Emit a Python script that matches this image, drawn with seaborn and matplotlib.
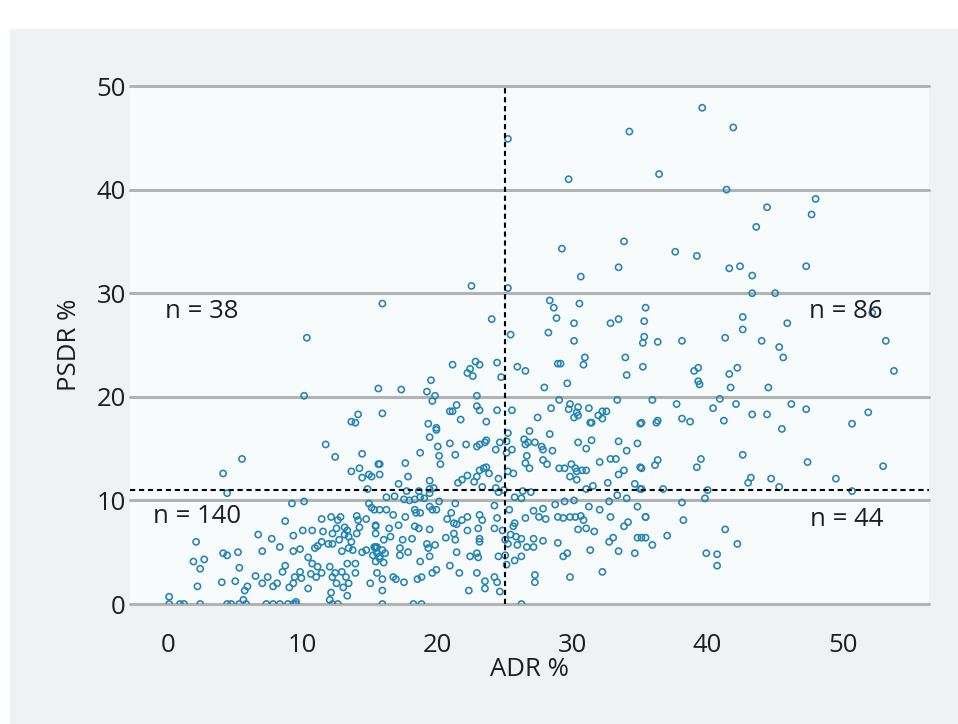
import matplotlib
matplotlib.use("Agg")
import matplotlib.pyplot as plt
from matplotlib.patches import Rectangle
import seaborn as sns

sns.set_theme(style="white")
plt.rcParams["font.family"] = ["Open Sans", "DejaVu Sans"]

# ---------------------------------------------------------------
# DATA (ADR % vs PSDR %)
# ---------------------------------------------------------------
upper_right = [
    (34.2, 45.6), (25.2, 44.9), (29.7, 41.0), (29.2, 34.3), (33.8, 35.0),
    (39.6, 47.9), (41.9, 46.0), (36.4, 41.5), (41.4, 40.0), (48.0, 39.1),
    (44.4, 38.3), (47.7, 37.6), (43.6, 36.4), (37.6, 34.0), (39.2, 33.6),
    (41.6, 32.4), (42.4, 32.6), (43.3, 31.7), (47.3, 32.6), (43.3, 30.0),
    (45.0, 30.0), (35.4, 28.6), (35.3, 27.3), (42.6, 27.7), (42.6, 26.5),
    (45.9, 27.1), (52.2, 28.1), (35.3, 25.8), (35.2, 25.2), (36.3, 25.3),
    (38.1, 25.4), (41.3, 25.7), (44.0, 25.4), (45.3, 24.8), (45.6, 23.8),
    (53.2, 25.4), (53.8, 22.5), (35.2, 22.9), (39.0, 22.5), (39.3, 22.8),
    (42.2, 22.8), (41.6, 22.2), (39.3, 21.5), (39.4, 21.2), (41.7, 20.9),
    (44.5, 20.9), (35.9, 19.7), (37.7, 19.3), (40.9, 19.8), (40.4, 18.9),
    (42.1, 19.3), (46.2, 19.3), (47.3, 18.8), (51.9, 18.5), (35.1, 17.5),
    (36.2, 17.5), (36.3, 17.7), (38.1, 17.9), (38.7, 17.6), (41.2, 17.7),
    (43.3, 18.3), (44.4, 18.3), (50.7, 17.4), (45.5, 16.9),
]

lower_right = [
    (42.6, 14.4), (47.4, 13.7), (53.0, 13.3), (39.5, 14.0), (39.2, 13.2),
    (36.3, 13.9), (36.1, 13.4), (35.1, 13.1), (43.2, 12.2), (43.0, 11.7),
    (44.7, 12.1), (49.5, 12.1), (45.3, 11.3), (36.7, 11.1), (40.0, 11.0),
    (50.7, 10.9), (35.1, 11.1), (38.1, 9.8), (39.8, 10.2), (35.4, 8.4),
    (38.2, 8.1), (41.3, 7.2), (37.0, 6.6), (35.1, 6.4), (35.9, 5.7),
    (42.2, 5.8), (39.9, 4.9), (40.7, 4.8), (40.7, 3.7),
]

middle_upper = [
    (33.4, 32.5), (30.6, 31.6), (22.5, 30.7), (25.2, 30.5), (15.9, 29.0),
    (28.3, 29.3), (28.6, 28.6), (30.5, 29.0), (28.8, 27.6), (30.1, 27.1),
    (32.8, 27.1), (33.4, 27.5), (24.0, 27.5), (25.4, 26.0), (28.2, 26.2),
    (30.1, 25.4), (30.9, 23.8), (30.8, 23.1), (28.9, 23.2), (29.1, 23.2),
    (33.9, 23.8), (34.0, 22.1), (29.6, 21.3), (27.9, 20.9), (22.8, 23.4),
    (23.1, 23.1), (24.4, 23.3), (25.9, 22.9), (26.5, 22.5), (24.7, 21.9),
    (21.1, 23.1), (22.4, 22.7), (22.2, 22.3), (22.6, 22.0), (19.5, 21.6),
    (15.6, 20.8), (17.3, 20.7), (19.2, 20.5), (19.8, 20.1), (19.6, 19.6),
    (22.9, 20.1), (21.4, 19.2), (20.9, 18.6), (21.1, 18.6), (22.9, 19.1),
    (23.1, 18.7), (24.4, 18.7), (25.5, 18.7), (21.7, 17.8), (23.6, 17.6),
    (15.9, 18.4), (19.3, 17.4), (19.9, 17.0), (27.4, 18.0), (28.4, 18.9),
    (29.0, 19.7), (29.8, 19.3), (30.4, 19.0), (29.7, 18.8), (30.3, 18.5),
    (30.1, 18.0), (30.4, 18.2), (31.2, 18.9), (31.3, 17.5), (31.9, 18.2),
    (32.2, 18.6), (32.5, 18.6), (32.2, 17.9), (33.3, 19.7),
]

left_upper = [
    (10.3, 25.7), (10.1, 20.1), (14.1, 18.3), (13.6, 17.6), (13.9, 17.5),
]

left_lower = [
    (11.7, 15.4), (12.4, 14.2), (14.4, 14.5), (5.5, 14.0), (4.1, 12.6),
    (4.4, 10.7), (13.6, 12.8), (14.2, 13.1), (14.4, 12.2), (14.9, 12.5),
    (15.6, 13.5), (14.8, 11.1), (9.2, 9.7), (10.1, 9.9), (14.9, 9.7),
    (15.3, 9.1), (8.7, 8.0), (11.4, 8.2), (12.1, 8.4), (12.6, 8.1),
    (12.8, 8.4), (14.0, 8.5), (14.1, 8.1), (14.7, 8.2), (10.0, 7.1),
    (10.7, 7.1), (11.5, 7.0), (12.5, 7.3), (13.1, 7.4), (13.3, 7.1),
    (14.2, 7.4), (15.4, 7.5), (12.2, 6.8), (13.1, 6.7), (13.4, 6.5),
    (14.0, 6.8), (6.7, 6.7), (7.7, 6.3), (9.3, 6.6), (2.1, 6.0),
    (11.4, 6.0), (11.9, 5.8), (12.2, 5.8), (12.7, 6.2), (13.6, 6.0),
    (11.1, 5.6), (8.3, 5.5), (7.0, 5.1), (9.3, 5.1), (9.8, 5.3),
    (10.4, 4.5), (10.9, 5.4), (12.9, 5.1), (13.4, 5.4), (13.7, 5.2),
    (14.4, 5.0), (14.7, 5.2), (15.2, 4.7), (15.5, 5.5), (4.1, 4.9),
    (4.4, 4.7), (5.2, 5.0), (1.9, 4.1), (2.7, 4.3), (2.4, 3.4),
    (5.3, 3.5), (2.2, 1.7), (4.0, 2.1), (5.0, 2.2), (5.7, 1.3),
    (5.9, 1.7), (6.5, 2.7), (7.0, 2.0), (7.4, 2.6), (7.8, 1.7),
    (8.1, 2.0), (8.5, 3.1), (8.7, 3.7), (9.0, 1.6), (9.3, 2.0),
    (9.4, 2.6), (9.8, 3.1), (9.9, 2.5), (10.4, 1.5), (10.6, 2.9),
    (10.7, 3.9), (11.1, 3.6), (11.0, 2.6), (11.4, 3.0), (12.0, 3.6),
    (12.2, 2.6), (12.5, 2.0), (12.4, 3.0), (12.9, 3.1), (13.2, 2.6),
    (13.3, 3.9), (13.9, 3.0), (13.9, 3.9), (13.4, 2.0), (13.0, 1.6),
    (12.1, 1.1), (12.0, 0.4), (13.3, 0.8), (15.0, 2.0), (0.1, 0.7),
    (0.1, 0.0), (0.9, 0.0), (1.2, 0.0), (2.4, 0.0), (4.4, 0.0),
    (4.7, 0.0), (5.3, 0.0), (5.8, 0.0), (7.3, 0.0), (7.8, 0.0),
    (8.3, 0.0), (8.9, 0.0), (9.3, 0.0), (9.5, 0.0), (12.2, 0.0),
    (12.6, 0.0), (5.6, 0.4), (9.5, 0.2),
]

middle_lower = [
    (19.9, 16.8), (19.4, 16.1), (25.2, 16.5), (26.8, 16.7), (28.3, 16.4),
    (31.4, 17.5), (35.0, 17.4), (18.7, 14.6), (20.0, 15.2), (20.9, 15.5),
    (20.1, 14.3), (20.2, 13.5), (21.3, 14.4), (22.1, 15.4), (22.9, 15.2),
    (23.1, 15.4), (23.5, 15.6), (23.6, 15.8), (24.3, 14.9), (24.6, 15.6),
    (25.1, 15.7), (25.5, 14.9), (25.1, 14.6), (26.4, 15.9), (26.5, 15.4),
    (26.7, 15.6), (27.2, 15.6), (27.7, 15.2), (27.8, 14.9), (28.5, 14.8),
    (26.6, 14.3), (26.5, 13.6), (26.8, 13.1), (27.8, 13.9), (28.1, 13.5),
    (29.0, 13.1), (29.4, 13.1), (29.9, 13.5), (30.2, 13.1), (30.3, 12.8),
    (30.7, 12.9), (31.0, 12.9), (29.8, 12.3), (30.3, 12.0), (30.4, 15.6),
    (31.0, 15.0), (31.4, 15.8), (32.0, 13.7), (32.8, 14.0), (33.2, 14.0),
    (33.4, 15.7), (34.0, 14.8), (34.8, 15.5), (33.4, 12.5), (33.8, 12.9),
    (32.6, 11.7), (35.0, 13.2), (34.6, 11.6), (35.0, 11.1), (31.5, 11.4),
    (31.0, 11.1), (33.3, 10.5), (34.0, 10.2),
    (15.7, 13.5), (15.7, 12.5), (15.1, 12.3), (17.6, 13.6), (17.8, 12.3),
    (17.1, 11.6), (19.4, 11.9), (17.7, 10.9), (18.6, 10.9), (19.4, 11.1),
    (19.7, 11.2), (21.5, 11.7), (21.8, 12.0), (22.2, 12.4), (22.7, 11.8),
    (22.9, 12.3), (23.1, 12.9), (23.4, 13.1), (23.6, 13.2), (23.8, 12.6),
    (24.5, 12.1), (23.3, 11.3), (24.3, 11.2), (24.5, 10.8), (24.9, 11.0),
    (25.6, 12.6), (25.2, 12.8), (26.3, 10.9), (26.9, 10.8), (16.2, 10.3),
    (16.8, 10.4), (17.5, 10.1), (17.9, 10.0), (18.3, 10.1), (18.7, 10.3),
    (19.0, 10.2), (19.4, 10.7), (20.1, 9.9), (21.3, 9.7), (25.7, 10.3),
    (26.2, 10.2), (28.7, 9.6), (29.4, 9.9), (30.1, 10.0), (31.2, 9.4),
    (32.7, 9.9), (34.8, 9.4),
    (15.1, 9.3), (15.7, 9.1), (16.2, 9.1), (16.7, 8.6), (17.6, 8.4),
    (18.3, 9.1), (18.4, 8.8), (18.7, 8.8), (19.4, 9.4), (19.6, 9.1),
    (19.9, 9.1), (21.0, 8.8), (20.7, 8.2), (21.2, 7.8), (21.4, 7.7),
    (21.8, 8.1), (22.2, 8.4), (23.1, 8.6), (23.3, 8.1), (24.2, 9.5),
    (24.4, 8.3), (25.3, 9.1), (26.5, 8.3), (27.1, 9.0), (27.5, 8.4),
    (28.0, 8.2), (27.8, 9.2), (28.9, 8.4), (29.3, 8.3), (29.8, 8.4),
    (30.2, 8.4), (30.6, 8.5), (30.8, 8.1), (30.4, 7.2), (31.0, 7.3),
    (31.6, 7.0), (32.0, 9.1), (32.8, 8.4), (33.8, 7.5), (34.1, 7.9),
    (35.4, 8.4),
    (15.4, 7.6), (16.4, 7.3), (17.1, 7.6), (18.3, 7.5), (18.6, 7.3),
    (19.4, 7.2), (18.1, 6.3), (17.4, 6.2), (16.5, 6.5), (16.0, 6.2),
    (15.4, 6.8), (15.3, 5.5), (15.4, 5.4), (16.1, 4.9), (15.7, 4.4),
    (15.4, 4.1), (15.5, 3.0), (15.9, 2.4), (16.7, 2.6), (16.9, 2.4),
    (17.5, 2.1), (18.5, 2.4), (18.8, 2.6), (19.6, 3.0), (19.9, 3.3),
    (20.9, 3.7), (21.6, 3.0), (22.9, 3.0), (22.3, 1.3), (23.5, 2.2),
    (23.5, 1.5), (24.2, 2.6), (24.4, 2.1), (24.6, 1.2), (15.9, 1.3),
    (17.2, 5.4), (17.2, 4.7), (17.8, 5.0), (18.7, 4.1), (19.2, 5.8),
    (19.3, 5.4), (19.4, 4.6), (19.8, 5.7), (20.6, 6.4), (21.2, 6.8),
    (21.3, 6.2), (21.4, 5.0), (22.2, 7.1), (22.4, 4.6), (22.9, 4.9),
    (23.0, 4.5), (23.1, 6.3), (23.1, 6.0), (23.0, 7.3), (24.2, 7.3),
    (24.5, 4.6), (24.8, 7.1), (25.0, 6.2), (25.0, 4.7), (25.1, 3.8),
    (25.2, 5.8), (25.4, 6.7), (25.6, 7.5), (25.7, 7.8), (25.8, 6.5),
    (25.9, 5.7), (26.2, 6.3), (26.2, 4.6), (26.6, 5.5), (27.1, 5.5),
    (27.1, 6.3), (27.8, 6.1), (25.7, 4.2), (27.2, 2.8), (27.2, 2.1),
    (28.9, 5.9), (29.3, 4.6), (29.6, 4.9), (29.8, 2.6), (31.3, 5.2),
    (32.2, 3.1), (32.7, 6.0), (33.0, 6.4), (33.4, 5.1), (34.6, 4.9),
    (34.8, 6.4), (35.4, 6.4),
    (15.4, 5.5), (15.5, 4.9), (15.9, 5.2), (15.7, 4.6), (16.0, 4.0),
    (15.9, 0.0), (18.2, 0.0), (18.8, 0.0), (26.2, 0.0),
]

points = upper_right + lower_right + middle_upper + left_upper + left_lower + middle_lower
adr = [p[0] for p in points]
psdr = [p[1] for p in points]

adr_cut = 25
psdr_cut = 11
quadrant_labels = ["n = 38", "n = 86", "n = 140", "n = 44"]

# ---------------------------------------------------------------
# PLOT
# ---------------------------------------------------------------
fig = plt.figure(figsize=(9.58, 7.24), dpi=100)
fig.patch.set_facecolor("white")
fig.patches.append(Rectangle((10 / 958, 0), 1, 1 - 29 / 724, transform=fig.transFigure,
                             facecolor="#eff2f5", edgecolor="none", zorder=-10))

ax = fig.add_axes([130 / 958, 1 - 604 / 724, (929 - 130) / 958, (604 - 86) / 724])
ax.set_facecolor("#f8fbfc")

for yv in range(0, 51, 10):
    ax.axhline(yv, color="#b3b3b3", linewidth=2.2, zorder=1, clip_on=False)

sns.scatterplot(x=adr, y=psdr, ax=ax, s=20, marker="o", facecolor="none",
                edgecolor="#2384b3", linewidth=1.15, zorder=3)

ax.axvline(adr_cut, color="black", linestyle=(0, (2.5, 1.8)), linewidth=1.5, zorder=4)
ax.axhline(psdr_cut, color="black", linestyle=(0, (2.5, 1.8)), linewidth=1.5, zorder=4)

ax.set_xlim(-2.8, 56.4)
ax.set_ylim(0, 50)
ax.set_xticks(range(0, 51, 10))
ax.set_yticks(range(0, 51, 10))
for s in ax.spines.values():
    s.set_visible(False)
ax.tick_params(axis="both", length=0, labelsize=18.5, colors="#1e1e1e")
ax.tick_params(axis="x", pad=21)
ax.tick_params(axis="y", pad=3)

ax.set_xlabel("ADR %", fontsize=18.5, color="#1e1e1e", labelpad=-1)
ax.set_ylabel("PSDR %", fontsize=18.5, color="#1e1e1e", labelpad=10)

txt = dict(fontsize=18.5, color="#1e1e1e", va="center")
ax.text(-0.2, 28.2, quadrant_labels[0], ha="left", **txt)
ax.text(53.0, 28.2, quadrant_labels[1], ha="right", **txt)
ax.text(-1.1, 8.4, quadrant_labels[2], ha="left", **txt)
ax.text(53.0, 8.2, quadrant_labels[3], ha="right", **txt)

fig.savefig("out.png", dpi=100, facecolor=fig.get_facecolor())
